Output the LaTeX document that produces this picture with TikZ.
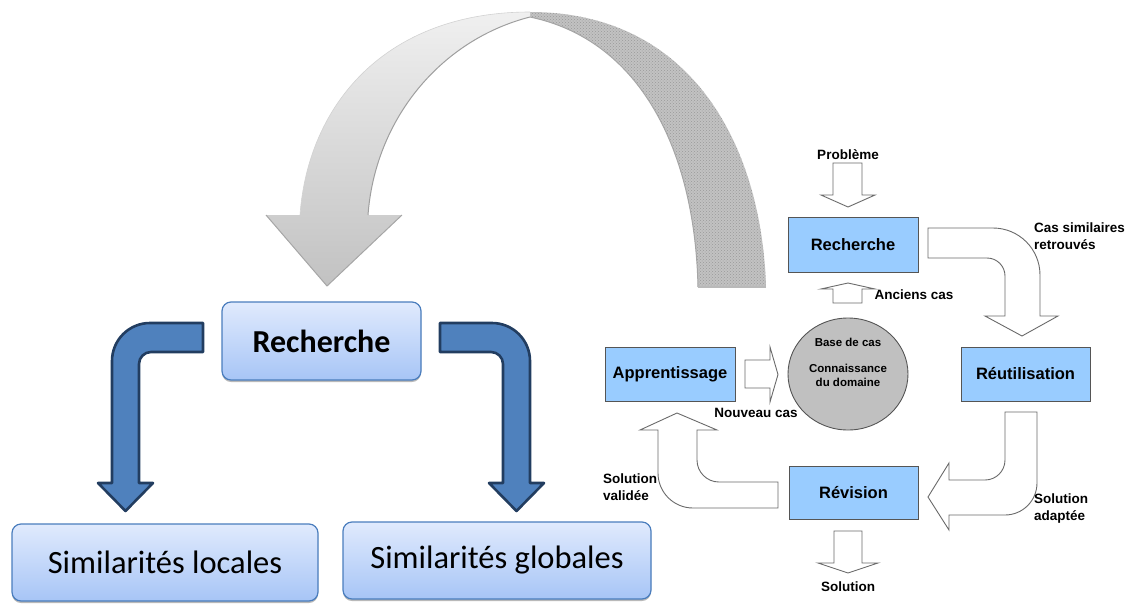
\documentclass[tikz,border=0pt]{standalone}
\usepackage{fontspec}
\setmainfont{Liberation Sans}
\newfontfamily\calib{Carlito}
\newfontfamily\arialf{Liberation Sans}
\usetikzlibrary{shadows,shapes.geometric,patterns,calc}
\definecolor{procfill}{HTML}{99CCFF}
\definecolor{procline}{HTML}{555555}
\definecolor{arrline}{HTML}{6A6A6A}
\definecolor{bluefill}{HTML}{4F81BD}
\definecolor{blueline}{HTML}{223D60}
\definecolor{boxtop}{HTML}{E0EAFD}
\definecolor{boxbot}{HTML}{A7C5F6}
\definecolor{boxline}{HTML}{4A7DBD}
\definecolor{circfill}{HTML}{C0C0C0}
\definecolor{arcright}{HTML}{C2C2C2}
\tikzset{
  bigbox/.style={rounded corners=9pt, draw=boxline, line width=1.2pt,
    top color=boxtop, bottom color=boxbot, font=\calib,
    drop shadow={shadow xshift=0pt, shadow yshift=-2pt, opacity=0.55, fill=gray}},
  procbox/.style={rectangle, draw=procline, line width=0.9pt, fill=procfill,
    font=\arialf\bfseries\fontsize{16.5}{19}\selectfont, inner sep=0pt},
  lbl/.style={font=\arialf\bfseries\fontsize{13.5}{17}\selectfont, inner sep=0pt},
  blockarrow/.style={draw=arrline, fill=white, line width=0.9pt, line join=miter},
  bluearrow/.style={fill=bluefill, draw=blueline, line width=2.6pt, line join=round},
}
\begin{document}
\begin{tikzpicture}[x=1pt,y=-1pt]
\useasboundingbox (0,0) rectangle (1136,603);

% ---------- big arc arrow ----------
% right half (textured)
\path[fill=arcright]
  (530,12) .. controls (695,12) and (762,150) .. (766,287)
  -- (698,287) .. controls (695,150) and (640,40) .. (530,17) -- cycle;
\path[pattern=crosshatch dots, pattern color=gray!80]
  (530,12) .. controls (695,12) and (762,150) .. (766,287)
  -- (698,287) .. controls (695,150) and (640,40) .. (530,17) -- cycle;
\draw[gray!70, line width=1pt]
  (698,287) .. controls (695,150) and (640,40) .. (530,17);
\draw[gray!55, line width=1.2pt] (698,287) -- (766,287);
% left half (gradient)
\path[top color=gray!12, bottom color=gray!48]
  (300,215) .. controls (308,105) and (385,12) .. (530,12)
  -- (530,17) .. controls (440,40) and (375,120) .. (368,215)
  -- (402,215) -- (327,286) -- (266,215) -- cycle;
\draw[gray!75, line width=1pt]
  (530,17) .. controls (440,40) and (375,120) .. (368,215);
\draw[gray!70, line width=1pt] (402,215) -- (327,286) -- (266,215);
\draw[gray!35, line width=0.6pt]
  (300,215) .. controls (308,105) and (385,12) .. (530,12);

% ---------- left part ----------
\node[bigbox, minimum width=199pt, minimum height=78pt,
      font=\calib\bfseries\fontsize{32}{37}\selectfont] (R0) at (321.5,341) {Recherche};
\node[bigbox, minimum width=306pt, minimum height=77pt,
      font=\calib\fontsize{32.5}{37}\selectfont] (SL) at (165,562.5) {Similarités locales};
\node[bigbox, minimum width=308pt, minimum height=77pt,
      font=\calib\fontsize{32.5}{37}\selectfont] (SG) at (497,560.5) {Similarités globales};

\draw[bluearrow] (203,323) -- (150,323) arc[start angle=-90,end angle=-180,radius=38]
  -- (112,483) -- (98,483) -- (125.5,511) -- (153,483) -- (139,483)
  -- (139,364) arc[start angle=180,end angle=270,radius=12] -- (203,352) -- cycle;
\draw[bluearrow] (440,323) -- (492,323) arc[start angle=-90,end angle=0,radius=38]
  -- (530,483) -- (544,483) -- (516.5,511) -- (489,483) -- (503,483)
  -- (503,364) arc[start angle=0,end angle=-90,radius=12] -- (440,352) -- cycle;

% ---------- right cycle ----------
\node[procbox, minimum width=130pt, minimum height=55pt] (RR) at (853,244.5) {Recherche};
\node[procbox, minimum width=129pt, minimum height=54pt] (RU) at (1025.5,374) {Réutilisation};
\node[procbox, minimum width=130pt, minimum height=54pt] (AP) at (670,374) {Apprentissage};
\node[procbox, minimum width=129pt, minimum height=53pt] (RV) at (853.5,492.5) {Révision};
\node[ellipse, draw=procline, line width=0.9pt, fill=circfill,
      minimum width=120pt, minimum height=112pt] (BC) at (848,374) {};
\node[lbl, font=\arialf\bfseries\fontsize{11.5}{13.5}\selectfont] (BC1) at (848,342) {Base de cas};
\node[lbl, font=\arialf\bfseries\fontsize{11.5}{13.5}\selectfont, align=center] (BC2) at (848,375.5) {Connaissance\\du domaine};

% block arrows
\draw[blockarrow] (833,163) -- (862,163) -- (862,195) -- (875,195) -- (848,207)
  -- (821,195) -- (833,195) -- cycle;
\draw[blockarrow] (833,303) -- (862,303) -- (862,289) -- (875,289) -- (848,283)
  -- (821,289) -- (833,289) -- cycle;
\draw[blockarrow] (745,360) -- (770,360) -- (770,347) -- (778,374.5) -- (770,402)
  -- (770,388) -- (745,388) -- cycle;
\draw[blockarrow] (834,531) -- (862,531) -- (862,563) -- (878,563) -- (848,573)
  -- (818,563) -- (834,563) -- cycle;
\draw[blockarrow] (928,228) -- (993,228) arc[start angle=-90,end angle=0,radius=47]
  -- (1040,316) -- (1058,316) -- (1022,336) -- (985,316) -- (1005,316)
  -- (1005,276) arc[start angle=0,end angle=-90,radius=18] -- (928,258) -- cycle;
\draw[blockarrow] (1005,412) -- (1037,412) -- (1037,483) arc[start angle=0,end angle=90,radius=32]
  -- (949,515) -- (949,530) -- (928,497) -- (949,463) -- (949,480)
  -- (985,480) arc[start angle=90,end angle=0,radius=20] -- cycle;
\draw[blockarrow] (778,482) -- (778,508) -- (693,508) arc[start angle=90,end angle=180,radius=35]
  -- (658,430) -- (640,430) -- (677,413) -- (717,430) -- (697,430)
  -- (697,460) arc[start angle=180,end angle=90,radius=22] -- cycle;

% labels
\node[lbl] (Lp) at (848,155) {Problème};
\node[lbl] (La) at (914,295) {Anciens cas};
\node[lbl, anchor=north west, align=left] (Lc) at (1034,223) {Cas similaires\\retrouvés};
\node[lbl] (Ln) at (756,413) {Nouveau cas};
\node[lbl, anchor=west, align=left] (Lv) at (603,487.5) {Solution\\validée};
\node[lbl, anchor=west, align=left] (Ld) at (1034,508.5) {Solution\\adaptée};
\node[lbl] (Ls) at (848,587) {Solution};
\end{tikzpicture}
\end{document}
